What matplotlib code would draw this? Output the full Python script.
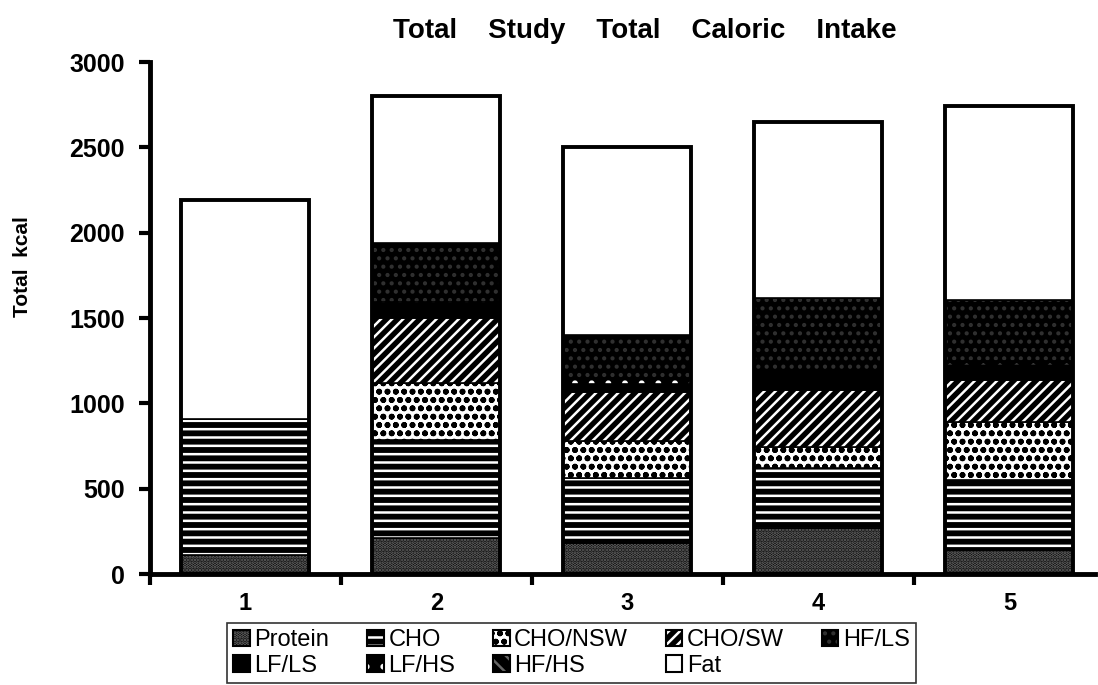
import numpy as np
import matplotlib
matplotlib.use("Agg")
import matplotlib.pyplot as plt
from matplotlib.patches import Patch

plt.rcParams['font.family'] = ['Liberation Sans', 'DejaVu Sans']
plt.rcParams['hatch.linewidth'] = 1.8

days = ['1', '2', '3', '4', '5']
protein = [110, 210, 182, 270, 140]
cho = [800, 574, 378, 350, 410]
cho_nsw = [0, 333, 220, 125, 340]
cho_sw = [0, 383, 286, 335, 246]
lf_ls = [0, 65, 49, 90, 89]
lf_hs = [0, 30, 25, 20, 25]
hf_ls = [0, 345, 260, 427, 355]
hf_hs = [0, 0, 0, 0, 0]
fat = [1280, 860, 1100, 1033, 1135]

# stacking order bottom -> top, with (face, hatch, hatch colour)
stack = [
    ('Protein', protein, 'black', '.....', '#6e6e6e'),
    ('CHO', cho, 'black', '--', 'white'),
    ('CHO/NSW', cho_nsw, 'white', 'oo', 'black'),
    ('CHO/SW', cho_sw, 'black', '///', 'white'),
    ('LF/LS', lf_ls, 'black', None, 'black'),
    ('LF/HS', lf_hs, 'black', '.', 'white'),
    ('HF/LS', hf_ls, 'black', '..', '#303030'),
    ('HF/HS', hf_hs, 'black', '\\\\', '#666666'),
    ('Fat', fat, 'white', None, 'black'),
]
legend_order = ['Protein', 'CHO', 'CHO/NSW', 'CHO/SW', 'HF/LS',
                'LF/LS', 'LF/HS', 'HF/HS', 'Fat']

fig = plt.figure(figsize=(10.98, 6.85), dpi=100)
ax = fig.add_axes([0.1366, 0.162, 0.861, 0.7474])

x = np.arange(1, len(days) + 1)
w = 0.67
bottom = np.zeros(len(days))
handles = {}
for name, vals, face, hatch, hc in stack:
    vals = np.array(vals, dtype=float)
    ax.bar(x, vals, w, bottom=bottom, color=face, edgecolor=hc,
           hatch=hatch, linewidth=0)
    ax.bar(x, vals, w, bottom=bottom, fill=False, edgecolor='black',
           linewidth=1.2)
    handles[name] = (Patch(facecolor=face, edgecolor=hc, hatch=hatch,
                           linewidth=0),
                     Patch(fill=False, edgecolor='black', linewidth=1.5))
    bottom += vals
ax.bar(x, bottom, w, fill=False, edgecolor='black', linewidth=2.8)

ax.set_xlim(0.5, 5.45)
ax.set_ylim(0, 3000)
ax.set_yticks(np.arange(0, 3001, 500))
ax.set_xticks(x)
ax.set_xticklabels(days)
ax.set_xticks(np.arange(0.5, 5.0, 1.0), minor=True)
ax.tick_params(axis='x', which='major', length=0, pad=13, labelsize=17)
ax.tick_params(axis='x', which='minor', length=8, width=3, direction='out')
ax.tick_params(axis='y', length=8, width=3, direction='out', pad=10,
               labelsize=18)
for lab in ax.get_xticklabels() + ax.get_yticklabels():
    lab.set_fontweight('bold')

for s in ['top', 'right']:
    ax.spines[s].set_visible(False)
for s in ['left', 'bottom']:
    ax.spines[s].set_linewidth(3.5)

ax.set_ylabel('Total  kcal', fontsize=15, fontweight='bold')
ax.yaxis.set_label_coords(-0.125, 0.6)
fig.text(0.587, 0.955, 'Total    Study    Total    Caloric    Intake',
         ha='center', va='center', fontsize=20, fontweight='bold')

# legend, row-major order over 5 columns
idx = [0, 5, 1, 6, 2, 7, 3, 8, 4]
names = [legend_order[i] for i in idx]
lg = fig.legend([handles[n] for n in names], names, ncol=5,
                loc='upper left', bbox_to_anchor=(0.207, 0.09),
                fontsize=17, frameon=True, fancybox=False,
                handlelength=0.7, handleheight=0.7, handletextpad=0.2,
                columnspacing=1.6, labelspacing=0.15, borderpad=0.25,
                borderaxespad=0)
lg.get_frame().set_edgecolor('black')
lg.get_frame().set_linewidth(1.2)

fig.savefig('out.png', dpi=100)
